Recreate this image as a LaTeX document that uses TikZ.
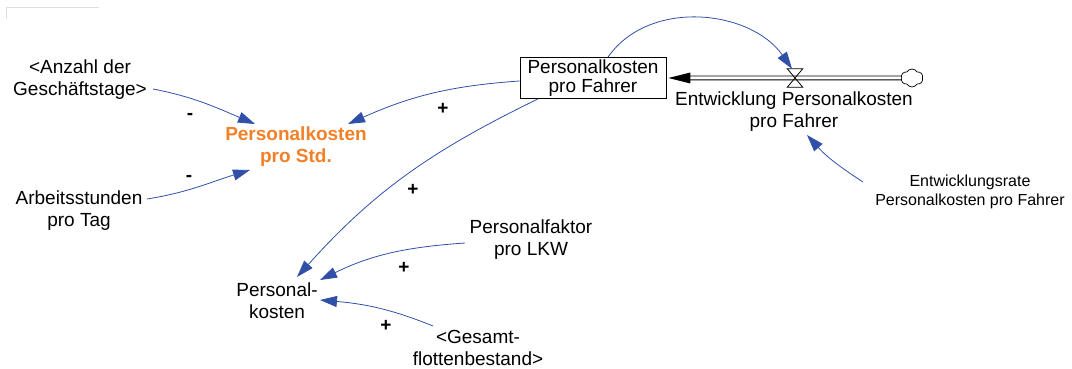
\documentclass[tikz,border=0pt]{standalone}
\usepackage{fontspec}
\setmainfont{Liberation Sans}
\usetikzlibrary{arrows.meta,shapes.symbols}
\definecolor{linkblue}{RGB}{48,80,168}
\definecolor{auxorange}{RGB}{242,128,38}
\begin{document}
\begin{tikzpicture}[x=1pt,y=1pt,
  lbl/.style={align=center,inner sep=0pt,font=\fontsize{19}{22}\selectfont},
  smalllbl/.style={align=center,inner sep=0pt,font=\fontsize{16}{19}\selectfont},
  stockbox/.style={draw,line width=0.8pt,minimum width=146pt,minimum height=41pt,
    align=center,inner sep=0pt,font=\fontsize{19}{18.5}\selectfont},
  link/.style={draw=linkblue,line width=0.8pt,-{Triangle[length=17pt,width=11pt]}},
  pipe/.style={line width=0.9pt,double=white,double distance=3pt},
  pol/.style={inner sep=0pt,font=\fontsize{19}{22}\selectfont\bfseries}]
\useasboundingbox (0,0) rectangle (1072,369);
% faint frame remnant in the upper left corner
\draw[black!13,line width=0.8pt] (6,350) -- (6,362) -- (99,362);

% stock, flow valve and source cloud
\node[stockbox] (pkf) at (593,291) {Personalkosten\\pro Fahrer};
\node[minimum width=15pt,minimum height=18pt,inner sep=0pt] (valve) at (795,291) {};
\node[cloud,draw,line width=0.7pt,cloud puffs=6,cloud puff arc=120,aspect=1.2,
      minimum width=22pt,minimum height=18pt,inner sep=0pt] (cloud) at (912,291) {};
\node[lbl] (ent) at (794,257) {Entwicklung Personalkosten\\pro Fahrer};

% variables
\node[lbl,text=auxorange,font=\fontsize{19}{22}\selectfont\bfseries] (pstd) at (296,222) {Personalkosten\\pro Std.};
\node[lbl] (anz) at (80,289) {<Anzahl der\\Geschäftstage>};
\node[lbl] (arb) at (79,158) {Arbeitsstunden\\pro Tag};
\node[lbl] (pk) at (277,68) {Personal-\\kosten};
\node[lbl] (pfak) at (531,129) {Personalfaktor\\pro LKW};
\node[lbl] (ges) at (478,21) {<Gesamt-\\flottenbestand>};
\node[smalllbl] (rate) at (970,177) {Entwicklungsrate\\Personalkosten pro Fahrer};

% flow pipe into the stock
\draw[pipe] (cloud.west) -- ([xshift=20pt]pkf.east);
\fill ([xshift=2pt]pkf.east) -- ([xshift=24pt,yshift=5.5pt]pkf.east) -- ([xshift=24pt,yshift=-5.5pt]pkf.east) -- cycle;
\draw[line width=0.8pt] (valve.north west) -- (valve.north east) -- (valve.south west) -- (valve.south east) -- cycle;

% causal links
\draw[link] ([xshift=15pt]pkf.north) to[out=55,in=125] ([xshift=-3pt]valve.north);
\draw[link] ([yshift=-3pt]pkf.west) to[out=184,in=24] ([shift={(52,23)}]pstd.center);
\draw[link] ([xshift=-55pt]pkf.south) to[out=206,in=48] ([shift={(20,24)}]pk.center);
\draw[link] ([shift={(73,-9)}]anz.center) to[out=-11,in=157] ([shift={(-41,23)}]pstd.center);
\draw[link] ([shift={(68,12)}]arb.center) to[out=9,in=-163] ([shift={(-46,-23)}]pstd.center);
\draw[link] ([shift={(-66,-3)}]pfak.center) to[out=184,in=26] ([shift={(43,21)}]pk.center);
\draw[link] ([shift={(-45,22)}]ges.center) to[out=158,in=-5] ([shift={(43,1)}]pk.center);
\draw[link] ([shift={(-107,10)}]rate.center) to[out=147,in=-48] ([shift={(13,-23)}]ent.center);

% link polarities
\node[pol] (s1) at (190,253) {-};
\node[pol] (s2) at (189,191) {-};
\node[pol] (s3) at (443,260) {+};
\node[pol] (s4) at (413,179) {+};
\node[pol] (s5) at (404,101) {+};
\node[pol] (s6) at (386,43) {+};
\end{tikzpicture}
\end{document}
